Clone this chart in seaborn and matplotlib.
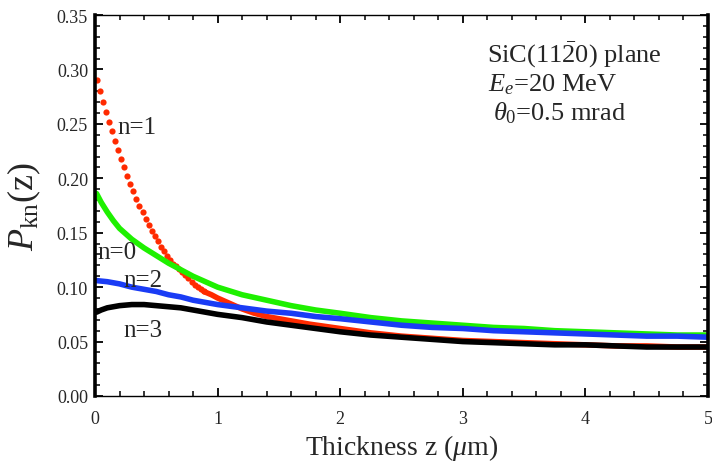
import numpy as np
import pandas as pd
import matplotlib
matplotlib.use("Agg")
import matplotlib.pyplot as plt
import seaborn as sns
from matplotlib.ticker import MultipleLocator, FormatStrFormatter

# ---------------- data ----------------
# n=1 (red): dense dotted beginning + continuous tail
z_red_dots = np.arange(0.0125, 0.9, 0.025)
p1_dots = [0.290, 0.280, 0.270, 0.261, 0.252, 0.243, 0.234, 0.226, 0.218, 0.210,
           0.202, 0.195, 0.188, 0.181, 0.175, 0.169, 0.163, 0.157, 0.152, 0.147,
           0.142, 0.137, 0.133, 0.129, 0.125, 0.121, 0.119, 0.117, 0.114, 0.111,
           0.108, 0.105, 0.102, 0.100, 0.098, 0.096]
z_red_tail = [0.8875, 0.95, 1.0, 1.1, 1.2, 1.3, 1.4, 1.5, 1.75, 2.0, 2.25, 2.5,
              2.75, 3.0, 3.25, 3.5, 3.75, 4.0, 4.25, 4.5, 4.75, 5.0]
p1_tail = [0.096, 0.093, 0.090, 0.085, 0.080, 0.076, 0.073, 0.071, 0.066, 0.062,
           0.058, 0.055, 0.053, 0.051, 0.050, 0.049, 0.048, 0.047, 0.046, 0.046,
           0.045, 0.045]

# n=0 (green)
z_n0 = [0.0125, 0.05, 0.1, 0.15, 0.2, 0.25, 0.3, 0.4, 0.5, 0.6, 0.7, 0.8, 0.9,
        1.0, 1.2, 1.4, 1.6, 1.8, 2.0, 2.25, 2.5, 2.75, 3.0, 3.25, 3.5, 3.75,
        4.0, 4.25, 4.5, 4.75, 5.0]
p0 = [0.186, 0.178, 0.169, 0.161, 0.154, 0.149, 0.144, 0.136, 0.129, 0.122,
      0.116, 0.110, 0.105, 0.100, 0.093, 0.088, 0.083, 0.079, 0.076, 0.072,
      0.069, 0.067, 0.065, 0.063, 0.062, 0.060, 0.059, 0.058, 0.057, 0.056,
      0.056]

# n=2 (blue)
z_n2 = [0.0125, 0.1, 0.2, 0.3, 0.4, 0.5, 0.6, 0.7, 0.8, 0.9, 1.0, 1.2, 1.4,
        1.6, 1.8, 2.0, 2.25, 2.5, 2.75, 3.0, 3.25, 3.5, 3.75, 4.0, 4.25, 4.5,
        4.75, 5.0]
p2 = [0.106, 0.105, 0.103, 0.100, 0.098, 0.096, 0.093, 0.091, 0.088, 0.086,
      0.084, 0.081, 0.078, 0.076, 0.073, 0.071, 0.068, 0.065, 0.063, 0.062,
      0.060, 0.059, 0.058, 0.057, 0.056, 0.055, 0.055, 0.054]

# n=3 (black)
z_n3 = [0.0125, 0.05, 0.1, 0.2, 0.3, 0.4, 0.5, 0.6, 0.7, 0.8, 0.9, 1.0, 1.2,
        1.4, 1.6, 1.8, 2.0, 2.25, 2.5, 2.75, 3.0, 3.25, 3.5, 3.75, 4.0, 4.25,
        4.5, 4.75, 5.0]
p3 = [0.077, 0.079, 0.081, 0.083, 0.084, 0.084, 0.083, 0.082, 0.081, 0.079,
      0.077, 0.075, 0.072, 0.068, 0.065, 0.062, 0.059, 0.056, 0.054, 0.052,
      0.050, 0.049, 0.048, 0.047, 0.047, 0.046, 0.045, 0.045, 0.045]

x_ticks = [0, 1, 2, 3, 4, 5]
y_ticks = [0.00, 0.05, 0.10, 0.15, 0.20, 0.25, 0.30, 0.35]

# ---------------- style ----------------
sns.set_style("ticks")
plt.rcParams["font.family"] = ["Liberation Serif", "DejaVu Serif"]
plt.rcParams["mathtext.fontset"] = "custom"
plt.rcParams["mathtext.rm"] = "Liberation Serif"
plt.rcParams["mathtext.it"] = "Liberation Serif:italic"
plt.rcParams["mathtext.bf"] = "Liberation Serif:bold"

RED = "#ff2a00"
GREEN = "#1ef000"
BLUE = "#1a3cf5"
BLACK = "#000000"

fig = plt.figure(figsize=(7.12, 4.64), dpi=100)
ax = fig.add_axes([95 / 712, 67 / 464, 613 / 712, 381 / 464])

lw = 4.0
sns.lineplot(x=z_n0, y=p0, ax=ax, color=GREEN, lw=lw, sort=False, estimator=None)
sns.scatterplot(x=z_red_dots, y=p1_dots, ax=ax, color=RED, s=20, linewidth=0)
sns.lineplot(x=z_red_tail, y=p1_tail, ax=ax, color=RED, lw=lw, sort=False, estimator=None)
sns.lineplot(x=z_n2, y=p2, ax=ax, color=BLUE, lw=lw, sort=False, estimator=None)
sns.lineplot(x=z_n3, y=p3, ax=ax, color=BLACK, lw=lw, sort=False, estimator=None)

ax.set_xlim(0, 5)
ax.set_ylim(0, 0.35)
ax.set_xticks(x_ticks)
ax.set_yticks(y_ticks)
ax.yaxis.set_major_formatter(FormatStrFormatter("%.2f"))
ax.xaxis.set_minor_locator(MultipleLocator(0.2))
ax.yaxis.set_minor_locator(MultipleLocator(0.01))
ax.tick_params(which="both", direction="in", top=True, right=True,
               labelsize=13, color="black")
ax.tick_params(which="major", length=6, width=1.3)
ax.tick_params(which="minor", length=3.5, width=1.1)
ax.tick_params(axis="x", pad=10)
ax.tick_params(axis="y", pad=5)

for side in ["left", "right"]:
    ax.spines[side].set_linewidth(2.6)
for side in ["top", "bottom"]:
    ax.spines[side].set_linewidth(1.0)
for s in ax.spines.values():
    s.set_color("black")

ax.set_xlabel(r"Thickness z ($\mu$m)", fontsize=20, labelpad=4)
ax.set_ylabel(r"$P_{\rm kn}(\rm z)$", fontsize=26, labelpad=10)

# curve labels
lab_kw = dict(fontsize=18, va="baseline", ha="left")
ax.text(0.18, 0.242, "n=1", **lab_kw)
ax.text(0.016, 0.127, "n=0", **lab_kw)
ax.text(0.228, 0.101, "n=2", **lab_kw)
ax.text(0.228, 0.055, "n=3", **lab_kw)

# annotation
ann_kw = dict(fontsize=19, va="baseline", ha="left")
ax.text(3.20, 0.3075, r"SiC(11$\bar{2}$0) plane", **ann_kw)
ax.text(3.205, 0.2810, r"$E_e$=20 MeV", **ann_kw)
ax.text(3.25, 0.2545, r"$\theta_{\rm 0}$=0.5 mrad", **ann_kw)

fig.savefig("out.png", dpi=100)
